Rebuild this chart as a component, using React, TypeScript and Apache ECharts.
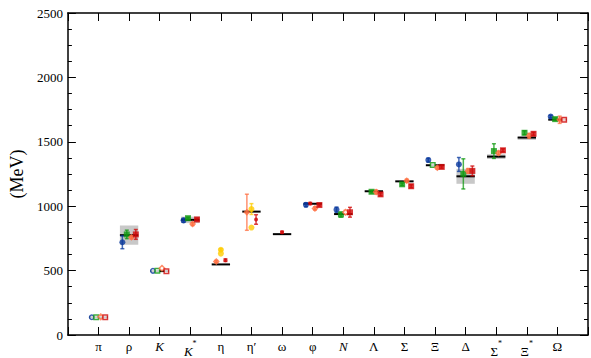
import React, { useEffect, useRef } from 'react';
import * as echarts from 'echarts';

// ---------- data ----------
const categories = ['π', 'ρ', 'K', 'K*', 'η', 'η′', 'ω', 'φ', 'N', 'Λ', 'Σ', 'Ξ', 'Δ', 'Σ*', 'Ξ*', 'Ω'];
const italicCats = ['K', 'K*', 'N'];

const expMass = [138, 775, 496, 894, 548, 958, 783, 1019, 939, 1116, 1193, 1318, 1232, 1385, 1533, 1672];
const expHalfWidth = [0, 75, 0, 25, 0, 0, 0, 0, 0, 0, 0, 0, 58, 18, 5, 0];

const blueMass = [138, 720, 498, 890, null, null, null, 1011, 973, null, null, 1358, 1324, null, null, 1696];
const blueErr = [0, 50, 0, 15, 0, 0, 0, 15, 20, 0, 0, 15, 54, 0, 0, 10];
const blueOpen = [0, 2];

const greenMass = [138, 781, 498, 907, null, null, null, null, 935, 1112, 1170, 1320, 1251, 1428, 1570, 1676];
const greenErr = [0, 33, 0, 8, 0, 0, 0, 0, 20, 10, 10, 0, 117, 57, 15, 10];
const greenOpen = [0, 2, 11];

const orangeMass = [141, 758, 518, 862, null, null, null, 983, 953, 1110, 1198, 1299, 1274, 1413, 1547, 1671];
const orangeErr = [0, 12, 0, 12, 0, 0, 0, 12, 15, 15, 12, 12, 18, 15, 18, 28];
const orangeOpen = [0, 2, 8];

const redMass = [138, 781, 495, 897, null, null, null, 1009, 953, 1092, 1155, 1305, 1274, 1434, 1562, 1671];
const redErr = [0, 38, 0, 10, 0, 0, 0, 8, 38, 12, 12, 10, 38, 12, 12, 10];
const redOpen = [0, 2, 15];

// η / η′ / ω / φ extra results
const etaOrangeMass = [null, null, null, null, 571, 953, null, null, null, null, null, null, null, null, null, null];
const etaOrangeErr = [0, 0, 0, 0, 8, 140, 0, 0, 0, 0, 0, 0, 0, 0, 0, 0];
const yellowMassA = [null, null, null, null, 662, 978, null, null, null, null, null, null, null, null, null, null];
const yellowErrA = [0, 0, 0, 0, 8, 42, 0, 0, 0, 0, 0, 0, 0, 0, 0, 0];
const yellowMassB = [null, null, null, null, 632, 834, null, null, null, null, null, null, null, null, null, null];
const smallRedMass = [null, null, null, null, 581, 897, 798, 1021, null, null, null, null, null, null, null, null];
const smallRedErr = [0, 0, 0, 0, 10, 37, 8, 8, 0, 0, 0, 0, 0, 0, 0, 0];

const yTicks = [0, 500, 1000, 1500, 2000, 2500];

// ---------- layout (not data) ----------
const OFF = { blue: -0.22, green: -0.075, orange: 0.075, red: 0.22 };
const etaOrangeOff = -0.15;
const yellowOff = 0;
const smallRedOff = [0, 0, 0, 0, 0.15, 0.15, 0, -0.08, 0, 0, 0, 0, 0, 0, 0, 0];

const C = {
  blue: '#0a3a9e',
  green: '#109a10',
  orange: '#ff6e40',
  red: '#d00808',
  yellow: '#ffcc00',
};

const SERIF = '"Liberation Serif", "DejaVu Serif", serif';

function scatterSeries(name, vals, offs, color, symbol, size, open = []) {
  const data = [];
  vals.forEach((v, i) => {
    if (v == null) return;
    const off = Array.isArray(offs) ? offs[i] : offs;
    const isOpen = open.includes(i);
    data.push({
      value: [i + 1 + off, v],
      symbolSize: isOpen ? size - 1.5 : size,
      itemStyle: isOpen
        ? { color: '#ffffff', borderColor: color, borderWidth: 1.5 }
        : { color, borderWidth: 0 },
    });
  });
  return {
    name,
    type: 'scatter',
    symbol,
    symbolSize: size,
    data,
    z: 5,
    silent: true,
  };
}

function errSeries(vals, errs, offs, color) {
  const data = [];
  vals.forEach((v, i) => {
    if (v == null || !errs[i]) return;
    const off = Array.isArray(offs) ? offs[i] : offs;
    data.push([i + 1 + off, v - errs[i], v + errs[i]]);
  });
  return {
    type: 'custom',
    silent: true,
    z: 4,
    encode: { x: 0, y: [1, 2] },
    data,
    renderItem: (params, api) => {
      const x = api.value(0);
      const lo = api.coord([x, api.value(1)]);
      const hi = api.coord([x, api.value(2)]);
      const cap = 2;
      const st = { stroke: color, lineWidth: 1.5, opacity: 0.75 };
      return {
        type: 'group',
        children: [
          { type: 'line', shape: { x1: lo[0], y1: lo[1], x2: hi[0], y2: hi[1] }, style: st },
          { type: 'line', shape: { x1: lo[0] - cap, y1: lo[1], x2: lo[0] + cap, y2: lo[1] }, style: st },
          { type: 'line', shape: { x1: hi[0] - cap, y1: hi[1], x2: hi[0] + cap, y2: hi[1] }, style: st },
        ],
      };
    },
  };
}

function expSeries() {
  const data = expMass.map((m, i) => [i + 1, m, expHalfWidth[i]]);
  return {
    type: 'custom',
    silent: true,
    z: 2,
    encode: { x: 0, y: 1 },
    data,
    renderItem: (params, api) => {
      const x = api.value(0);
      const m = api.value(1);
      const hw = api.value(2);
      const hwX = 0.3;
      const left = api.coord([x - hwX, m]);
      const right = api.coord([x + hwX, m]);
      const children = [];
      if (hw > 0) {
        const top = api.coord([x - hwX, m + hw]);
        const bot = api.coord([x + hwX, m - hw]);
        children.push({
          type: 'rect',
          shape: { x: top[0], y: top[1], width: bot[0] - top[0], height: Math.max(bot[1] - top[1], 3) },
          style: { fill: '#c8c8c8' },
        });
      }
      children.push({
        type: 'line',
        shape: { x1: left[0], y1: left[1], x2: right[0], y2: right[1] },
        style: { stroke: '#000', lineWidth: 2 },
      });
      return { type: 'group', children };
    },
  };
}

function catLabel(v) {
  const i = Math.round(v) - 1;
  if (i < 0 || i >= categories.length || Math.abs(v - Math.round(v)) > 1e-6) return '';
  const c = categories[i];
  const it = italicCats.includes(c);
  if (c.endsWith('*')) {
    const base = c.slice(0, -1);
    return `{${it ? 'bi' : 'bs'}|${base}}{sup|*}`;
  }
  return `{${it ? 'it' : 'n'}|${c}}`;
}

export default function App() {
  const ref = useRef(null);
  useEffect(() => {
    const chart = echarts.init(ref.current, null, { renderer: 'svg' });
    const axisLine = { show: true, onZero: false, lineStyle: { color: '#000', width: 1.5 } };
    const option = {
      animation: false,
      backgroundColor: '#ffffff',
      grid: { left: 59, right: -1, top: 13, bottom: 16, containLabel: false },
      xAxis: [
        {
          type: 'value',
          min: 0,
          max: 17,
          interval: 1,
          position: 'bottom',
          axisLine,
          splitLine: { show: false },
          axisTick: { show: true, inside: true, length: 8, lineStyle: { color: '#000', width: 1 } },
          axisLabel: {
            show: true,
            margin: 4,
            formatter: catLabel,
            color: '#000',
            rich: {
              n: { fontFamily: SERIF, fontSize: 13, color: '#000', lineHeight: 14 },
              it: { fontFamily: SERIF, fontSize: 13, fontStyle: 'italic', color: '#000', lineHeight: 14 },
              bs: { fontFamily: SERIF, fontSize: 13, color: '#000', lineHeight: 19, verticalAlign: 'bottom' },
              bi: { fontFamily: SERIF, fontSize: 13, fontStyle: 'italic', color: '#000', lineHeight: 19, verticalAlign: 'bottom' },
              sup: { fontFamily: SERIF, fontSize: 8, color: '#000', verticalAlign: 'top', lineHeight: 10 },
            },
          },
        },
        {
          type: 'value',
          min: 0,
          max: 17,
          interval: 1,
          position: 'top',
          axisLine,
          splitLine: { show: false },
          axisTick: { show: true, inside: true, length: 8, lineStyle: { color: '#000', width: 1 } },
          axisLabel: { show: false },
        },
      ],
      yAxis: [
        {
          type: 'value',
          min: 0,
          max: 2500,
          interval: 500,
          position: 'left',
          axisLine,
          splitLine: { show: false },
          axisTick: { show: true, inside: true, length: 8, lineStyle: { color: '#000', width: 1 } },
          minorTick: { show: true, splitNumber: 4, length: 4, lineStyle: { color: '#000', width: 1 } },
          axisLabel: {
            show: true,
            margin: 5,
            fontFamily: SERIF,
            fontSize: 13,
            color: '#000',
            formatter: (v) => (yTicks.includes(v) ? String(v) : ''),
          },
          name: '(MeV)',
          nameLocation: 'middle',
          nameGap: 38,
          nameTextStyle: { fontFamily: SERIF, fontSize: 18, color: '#000' },
        },
        {
          type: 'value',
          min: 0,
          max: 2500,
          interval: 500,
          position: 'right',
          axisLine,
          splitLine: { show: false },
          axisTick: { show: true, inside: true, length: 8, lineStyle: { color: '#000', width: 1 } },
          minorTick: { show: true, splitNumber: 4, length: 4, lineStyle: { color: '#000', width: 1 } },
          axisLabel: { show: false },
        },
      ],
      series: [
        expSeries(),
        errSeries(blueMass, blueErr, OFF.blue, C.blue),
        errSeries(greenMass, greenErr, OFF.green, C.green),
        errSeries(orangeMass, orangeErr, OFF.orange, C.orange),
        errSeries(redMass, redErr, OFF.red, C.red),
        errSeries(etaOrangeMass, etaOrangeErr, etaOrangeOff, C.orange),
        errSeries(yellowMassA, yellowErrA, yellowOff, C.yellow),
        errSeries(smallRedMass, smallRedErr, smallRedOff, C.red),
        scatterSeries('blue', blueMass, OFF.blue, C.blue, 'circle', 6, blueOpen),
        scatterSeries('green', greenMass, OFF.green, C.green, 'rect', 6, greenOpen),
        scatterSeries('orange', orangeMass, OFF.orange, C.orange, 'diamond', 7, orangeOpen),
        scatterSeries('red', redMass, OFF.red, C.red, 'rect', 6, redOpen),
        scatterSeries('etaOrange', etaOrangeMass, etaOrangeOff, C.orange, 'diamond', 7),
        scatterSeries('yellowA', yellowMassA, yellowOff, C.yellow, 'circle', 6),
        scatterSeries('yellowB', yellowMassB, yellowOff, C.yellow, 'circle', 6),
        scatterSeries('smallRed', smallRedMass, smallRedOff, C.red, 'circle', 4),
      ],
    };
    chart.setOption(option);
    return () => chart.dispose();
  }, []);
  return (
    <div
      ref={ref}
      style={{ position: 'absolute', left: 0, top: 0, width: 591, height: 358, background: '#fff' }}
    />
  );
}
